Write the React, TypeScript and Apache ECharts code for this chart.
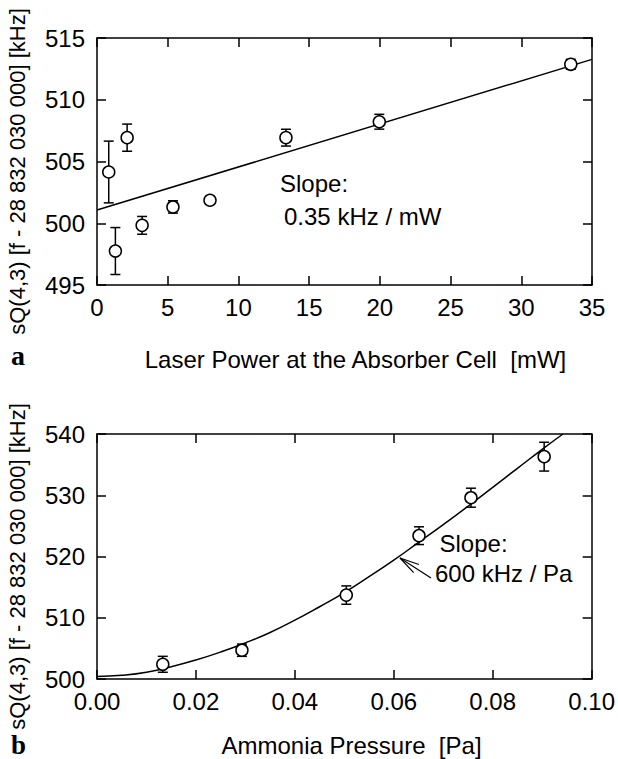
import React, { useEffect, useRef } from "react";
import * as echarts from "echarts";

// ---- Panel a: laser power dependence ----
const powerMW = [0.83, 1.3, 2.13, 3.19, 5.37, 7.99, 13.36, 19.96, 33.5];
const shiftA = [504.15, 497.75, 506.93, 499.83, 501.32, 501.86, 506.93, 508.22, 512.87];
const errA = [2.5, 1.9, 1.1, 0.72, 0.5, 0.3, 0.68, 0.6, 0.4];
const fitAx = [0, 35];
const fitAy = [501.07, 513.27];
const axisAx = { min: 0, max: 35, interval: 5 };
const axisAy = { min: 495, max: 515, interval: 5 };

// ---- Panel b: ammonia pressure dependence ----
const pressurePa = [0.0133, 0.0293, 0.0504, 0.0651, 0.0756, 0.0904];
const shiftB = [502.4, 504.7, 513.7, 523.4, 529.6, 536.3];
const errB = [1.3, 1.0, 1.5, 1.45, 1.55, 2.35];
const curveBx = [0, 0.005, 0.01, 0.015, 0.02, 0.025, 0.03, 0.035, 0.04, 0.045, 0.05, 0.055, 0.06, 0.065, 0.07, 0.075, 0.08, 0.085, 0.09, 0.0942];
const curveBy = [500.4, 500.6, 501.1, 502.0, 503.1, 504.4, 505.9, 507.6, 509.6, 511.8, 514.1, 516.7, 519.4, 522.3, 525.2, 528.2, 531.3, 534.4, 537.5, 540.0];
const axisBx = { min: 0, max: 0.1, interval: 0.02 };
const axisBy = { min: 500, max: 540, interval: 10 };

const FONT = '"Liberation Sans", Arial, Helvetica, sans-serif';
const SERIF = '"Liberation Serif", "Times New Roman", serif';
const BLACK = "#000";

function zip2(a: number[], b: number[]) {
  return a.map((v, i) => [v, b[i]]);
}
function zip3(a: number[], b: number[], c: number[]) {
  return a.map((v, i) => [v, b[i], c[i]]);
}

function errorRender(params: any, api: any) {
  const x = api.value(0);
  const y = api.value(1);
  const e = api.value(2);
  const top = api.coord([x, y + e]);
  const bot = api.coord([x, y - e]);
  const hw = 5;
  const style = { stroke: BLACK, lineWidth: 1.5 };
  return {
    type: "group",
    children: [
      { type: "line", shape: { x1: top[0], y1: top[1], x2: bot[0], y2: bot[1] }, style },
      { type: "line", shape: { x1: top[0] - hw, y1: top[1], x2: top[0] + hw, y2: top[1] }, style },
      { type: "line", shape: { x1: bot[0] - hw, y1: bot[1], x2: bot[0] + hw, y2: bot[1] }, style },
    ],
  };
}

function makeX(gridIndex: number, range: any, bottom: boolean, fmt?: (v: number) => string) {
  return {
    type: "value",
    gridIndex,
    position: bottom ? "bottom" : "top",
    min: range.min,
    max: range.max,
    interval: range.interval,
    axisLine: { show: true, onZero: false, lineStyle: { color: BLACK, width: 1.5 } },
    axisTick: { show: true, inside: true, length: 9, lineStyle: { color: BLACK, width: 1.5 } },
    axisLabel: {
      show: bottom,
      color: BLACK,
      fontSize: 24,
      fontFamily: FONT,
      margin: 10,
      formatter: fmt ? fmt : (v: number) => String(v),
    },
    splitLine: { show: false },
  };
}

function makeY(gridIndex: number, range: any, left: boolean) {
  return {
    type: "value",
    gridIndex,
    position: left ? "left" : "right",
    min: range.min,
    max: range.max,
    interval: range.interval,
    axisLine: { show: true, onZero: false, lineStyle: { color: BLACK, width: 1.5 } },
    axisTick: { show: true, inside: true, length: 9, lineStyle: { color: BLACK, width: 1.5 } },
    axisLabel: { show: left, color: BLACK, fontSize: 24, fontFamily: FONT, margin: 12 },
    splitLine: { show: false },
  };
}

function txt(text: string, x: number, y: number, opts: any = {}) {
  return {
    type: "text",
    x,
    y,
    rotation: opts.rotation || 0,
    style: {
      text,
      fill: BLACK,
      font: opts.font || `24px ${FONT}`,
      align: opts.align || "left",
      verticalAlign: "middle",
    },
  };
}

function arrowLines(tipX: number, tipY: number, tailX: number, tailY: number) {
  const ang = Math.atan2(tailY - tipY, tailX - tipX);
  const spread = (14 * Math.PI) / 180;
  const len = 20;
  const style = { stroke: BLACK, lineWidth: 1.2 };
  return [
    { type: "line", shape: { x1: tipX, y1: tipY, x2: tailX, y2: tailY }, style },
    { type: "line", shape: { x1: tipX, y1: tipY, x2: tipX + len * Math.cos(ang - spread), y2: tipY + len * Math.sin(ang - spread) }, style },
    { type: "line", shape: { x1: tipX, y1: tipY, x2: tipX + len * Math.cos(ang + spread), y2: tipY + len * Math.sin(ang + spread) }, style },
  ];
}

const markerStyle = { color: "#fff", borderColor: BLACK, borderWidth: 1.5, opacity: 1 };

export default function App() {
  const ref = useRef<HTMLDivElement>(null);

  useEffect(() => {
    if (!ref.current) return;
    const chart = echarts.init(ref.current, undefined, { renderer: "svg" });
    const yTitle = "sQ(4,3) [f - 28 832 030 000] [kHz]";
    const option: any = {
      animation: false,
      backgroundColor: "#fff",
      grid: [
        { left: 97, top: 38, width: 495, height: 247 },
        { left: 97, top: 434, width: 495, height: 245 },
      ],
      xAxis: [
        makeX(0, axisAx, true),
        makeX(0, axisAx, false),
        makeX(1, axisBx, true, (v: number) => v.toFixed(2)),
        makeX(1, axisBx, false),
      ],
      yAxis: [makeY(0, axisAy, true), makeY(0, axisAy, false), makeY(1, axisBy, true), makeY(1, axisBy, false)],
      series: [
        {
          type: "line",
          xAxisIndex: 0,
          yAxisIndex: 0,
          data: zip2(fitAx, fitAy),
          symbol: "none",
          lineStyle: { color: BLACK, width: 1.5 },
          z: 1,
        },
        {
          type: "custom",
          xAxisIndex: 0,
          yAxisIndex: 0,
          data: zip3(powerMW, shiftA, errA),
          encode: { x: 0, y: 1 },
          renderItem: errorRender,
          z: 2,
        },
        {
          type: "scatter",
          xAxisIndex: 0,
          yAxisIndex: 0,
          data: zip2(powerMW, shiftA),
          symbol: "circle",
          symbolSize: 12,
          itemStyle: markerStyle,
          emphasis: { disabled: true },
          z: 3,
        },
        {
          type: "line",
          xAxisIndex: 2,
          yAxisIndex: 2,
          data: zip2(curveBx, curveBy),
          smooth: true,
          symbol: "none",
          lineStyle: { color: BLACK, width: 1.5 },
          z: 1,
        },
        {
          type: "custom",
          xAxisIndex: 2,
          yAxisIndex: 2,
          data: zip3(pressurePa, shiftB, errB),
          encode: { x: 0, y: 1 },
          renderItem: errorRender,
          z: 2,
        },
        {
          type: "scatter",
          xAxisIndex: 2,
          yAxisIndex: 2,
          data: zip2(pressurePa, shiftB),
          symbol: "circle",
          symbolSize: 12,
          itemStyle: markerStyle,
          emphasis: { disabled: true },
          z: 3,
        },
      ],
      graphic: [
        txt("Slope:", 280, 183),
        txt("0.35 kHz / mW", 284, 216),
        txt("Slope:", 439.5, 543),
        txt("600 kHz / Pa", 435, 573.5),
        txt("Laser Power at the Absorber Cell  [mW]", 355.5, 359, { align: "center" }),
        txt("Ammonia Pressure  [Pa]", 351.5, 745.5, { align: "center" }),
        txt(yTitle, 17, 171.5, { align: "center", rotation: Math.PI / 2, font: `22px ${FONT}` }),
        txt(yTitle, 17, 566.5, { align: "center", rotation: Math.PI / 2, font: `22px ${FONT}` }),
        txt("a", 11, 355.5, { font: `bold 28px ${SERIF}` }),
        txt("b", 11, 745, { font: `bold 27px ${SERIF}` }),
        ...arrowLines(400, 558, 431, 578),
      ],
    };
    chart.setOption(option);
    return () => chart.dispose();
  }, []);

  return (
    <div
      ref={ref}
      style={{ position: "absolute", left: 0, top: 0, width: 618, height: 759, background: "#fff" }}
    />
  );
}
